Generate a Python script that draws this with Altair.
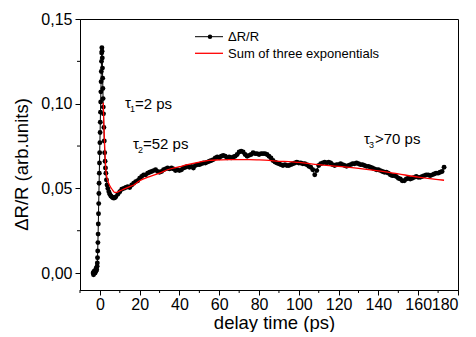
import altair as alt
import pandas as pd

# ---- data ----
t_data = [-3.4, -3.2, -3.0, -2.8, -2.6, -2.4, -2.2, -2.0, -1.8, -1.6, -1.4,
          -1.3, -1.2, -1.1, -1.0, -0.9, -0.8, -0.7, -0.6, -0.5, -0.4, -0.3, -0.2, -0.1,
          0.0, 0.1, 0.2, 0.3, 0.4, 0.5, 0.6, 0.7, 0.8, 0.9, 1.0, 1.1, 1.2, 1.3, 1.4,
          1.5, 1.6, 1.7, 1.8, 2.0, 2.2, 2.4, 2.6, 2.8, 3.0, 3.3, 3.6, 4.0, 4.5, 5.0,
          5.5, 6.0, 6.5, 7.0, 7.5, 8.0] + list(range(9, 174))
v_data = [0.000, -0.001, 0.001, 0.000, 0.001, 0.000, 0.002, 0.001, 0.003, 0.002, 0.004,
          0.006, 0.009, 0.013, 0.018, 0.023, 0.029, 0.035, 0.041, 0.047, 0.053, 0.059, 0.065, 0.071,
          0.077, 0.083, 0.089, 0.095, 0.101, 0.107, 0.113, 0.119, 0.125, 0.130, 0.133, 0.131, 0.127, 0.121, 0.115,
          0.109, 0.103, 0.098, 0.094, 0.086, 0.078, 0.071, 0.066, 0.062, 0.059, 0.055, 0.052, 0.050, 0.048, 0.0465,
          0.0455, 0.045, 0.0445, 0.0443, 0.0445, 0.045,
          # 9 .. 173 ps
          0.0465, 0.048, 0.0495, 0.050, 0.0505, 0.051, 0.0505, 0.052, 0.053, 0.054,
          0.0545, 0.056, 0.057, 0.058, 0.058, 0.059, 0.0595, 0.060, 0.0605, 0.061,
          0.060, 0.0595, 0.060, 0.061, 0.0615, 0.062, 0.0615, 0.062, 0.0615, 0.0605,
          0.061, 0.0605, 0.061, 0.062, 0.0625, 0.063, 0.0625, 0.063, 0.062, 0.0635,
          0.064, 0.064, 0.0645, 0.065, 0.065, 0.0655, 0.066, 0.0665, 0.067, 0.068,
          0.0685, 0.068, 0.069, 0.0695, 0.069, 0.068, 0.0685, 0.068, 0.0685, 0.069,
          0.070, 0.0715, 0.072, 0.0715, 0.070, 0.069, 0.0695, 0.070, 0.071, 0.0705,
          0.0705, 0.070, 0.0705, 0.0705, 0.0705, 0.070, 0.069, 0.068, 0.0665, 0.0655,
          0.065, 0.0645, 0.064, 0.0635, 0.064, 0.0635, 0.0635, 0.064, 0.0645, 0.065,
          0.0655, 0.065, 0.065, 0.0645, 0.0645, 0.064, 0.063, 0.0625, 0.061, 0.058,
          0.0605, 0.0635, 0.0645, 0.065, 0.0655, 0.065, 0.0655, 0.065, 0.064, 0.0635,
          0.064, 0.064, 0.0645, 0.064, 0.0635, 0.063, 0.0635, 0.064, 0.0645, 0.0645,
          0.065, 0.0645, 0.064, 0.064, 0.0635, 0.063, 0.063, 0.0625, 0.062, 0.0615,
          0.061, 0.061, 0.0605, 0.060, 0.0595, 0.0595, 0.059, 0.058, 0.0575, 0.0575,
          0.057, 0.056, 0.0555, 0.0545, 0.0545, 0.0555, 0.056, 0.0555, 0.056, 0.0565,
          0.057, 0.0565, 0.0565, 0.057, 0.0575, 0.058, 0.058, 0.0575, 0.058, 0.0585,
          0.059, 0.059, 0.0595, 0.060, 0.0625]

t_fit = [1.7, 1.8, 2.0, 2.2, 2.5, 2.9, 3.5, 4.0, 4.4, 5.0, 5.5, 6.4, 7.4, 8.5, 10, 12, 15, 17,
         20, 25, 30, 34, 40, 44, 50, 55, 60, 65, 70, 75, 80, 85, 90, 95, 100, 110, 120, 130,
         140, 150, 160, 170, 173]
v_fit = [0.1006, 0.096, 0.088, 0.081, 0.073, 0.0627, 0.0565, 0.0545, 0.053, 0.0515, 0.0505,
         0.049, 0.0477, 0.0476, 0.0485, 0.0495, 0.051, 0.052, 0.0545, 0.057, 0.059, 0.061,
         0.0628, 0.064, 0.0655, 0.0665, 0.0668, 0.067, 0.067, 0.067, 0.0668, 0.0665, 0.066,
         0.0658, 0.0653, 0.064, 0.063, 0.0618, 0.0603, 0.0585, 0.0567, 0.0552, 0.0548]

x_major = list(range(0, 181, 20))
x_minor = list(range(-10, 180, 20))
y_major = [0.0, 0.05, 0.10, 0.15]
y_minor = [0.025, 0.075, 0.125]

legend_labels = ["\u0394R/R", "Sum of three exponentials"]
FONT = "Liberation Sans"

df = pd.DataFrame({"t": t_data, "v": v_data})
fit = pd.DataFrame({"t": t_fit, "v": v_fit})

xscale = alt.Scale(domain=[-10, 180], nice=False, zero=False)
yscale = alt.Scale(domain=[-0.01, 0.15], nice=False, zero=False)

xaxis = alt.Axis(
    title="delay time (ps)", values=x_major, grid=False, tickSize=5,
    labelFontSize=16, titleFontSize=18.5, labelPadding=1, titlePadding=1,
    labelOverlap=False, labelFlush=1, labelBound=False, titleX=194,
)
yaxis = alt.Axis(
    title="\u0394R/R (arb.units)", values=y_major, grid=False, tickSize=5,
    labelExpr="replace(format(datum.value, '.2f'), '.', ',')",
    labelFontSize=16, titleFontSize=18.5, labelPadding=3, titlePadding=9,
    labelOverlap=False, labelFlush=False, titleY=145,
)

X = alt.X("t:Q", scale=xscale, axis=xaxis)
Y = alt.Y("v:Q", scale=yscale, axis=yaxis)

base = alt.Chart(df).encode(x=X, y=Y)
line = base.mark_line(color="black", strokeWidth=1)
pts = base.mark_circle(color="black", size=24, opacity=1)
fitline = alt.Chart(fit).mark_line(color="#ff0000", strokeWidth=1.3, interpolate="monotone").encode(
    x=X, y=Y)

# minor ticks drawn through the same scales
xminor = alt.Chart(pd.DataFrame({"t": x_minor})).mark_rule(color="black", strokeWidth=1).encode(
    x=X, y=alt.value(271), y2=alt.value(274))
yminor = alt.Chart(pd.DataFrame({"v": y_minor})).mark_rule(color="black", strokeWidth=1).encode(
    y=Y, x=alt.value(-3), x2=alt.value(0))

one = alt.Data(values=[{}])
leg_line1 = alt.Chart(one).mark_rule(color="black", strokeWidth=1).encode(
    x=alt.value(115), x2=alt.value(143), y=alt.value(17.7))
leg_pt = alt.Chart(one).mark_circle(color="black", size=20, opacity=1).encode(
    x=alt.value(130), y=alt.value(17.7))
leg_line2 = alt.Chart(one).mark_rule(color="#ff0000", strokeWidth=1.3).encode(
    x=alt.value(115), x2=alt.value(143), y=alt.value(34.3))
leg_t1 = alt.Chart(one).mark_text(text=legend_labels[0], font=FONT, fontSize=13, align="left",
                                  baseline="alphabetic", color="black").encode(
    x=alt.value(148), y=alt.value(22))
leg_t2 = alt.Chart(one).mark_text(text=legend_labels[1], font=FONT, fontSize=13, align="left",
                                  baseline="alphabetic", color="black").encode(
    x=alt.value(148), y=alt.value(38.5))


def txt(s, x, y, size):
    return alt.Chart(one).mark_text(text=s, font=FONT, fontSize=size, align="left",
                                    baseline="alphabetic", color="black").encode(
        x=alt.value(x), y=alt.value(y))


ann = [
    txt("\u03c4", 45, 89, 15), txt("1", 50, 93, 9), txt("=2 ps", 55, 89.5, 15),
    txt("\u03c4", 53, 129.5, 15), txt("2", 58, 133.5, 9), txt("=52 ps", 63, 130, 15),
    txt("\u03c4", 284, 125, 15), txt("3", 289, 129, 9), txt(">70 ps", 295, 125, 15),
]

chart = alt.layer(line, pts, fitline, xminor, yminor, leg_line1, leg_pt, leg_line2,
                  leg_t1, leg_t2, *ann).properties(
    width=378, height=271,
    padding={"left": 80, "top": 19, "right": 18, "bottom": 42},
    autosize=alt.AutoSizeParams(type="none"),
    background="white",
).configure_view(stroke="black", strokeWidth=1).configure_axis(
    domainColor="black", tickColor="black", labelColor="black", titleColor="black",
    labelFont=FONT, titleFont=FONT, titleFontWeight="normal", domainWidth=1, tickWidth=1,
)

chart.save("out.html", embed_options={"renderer": "svg", "actions": False})
